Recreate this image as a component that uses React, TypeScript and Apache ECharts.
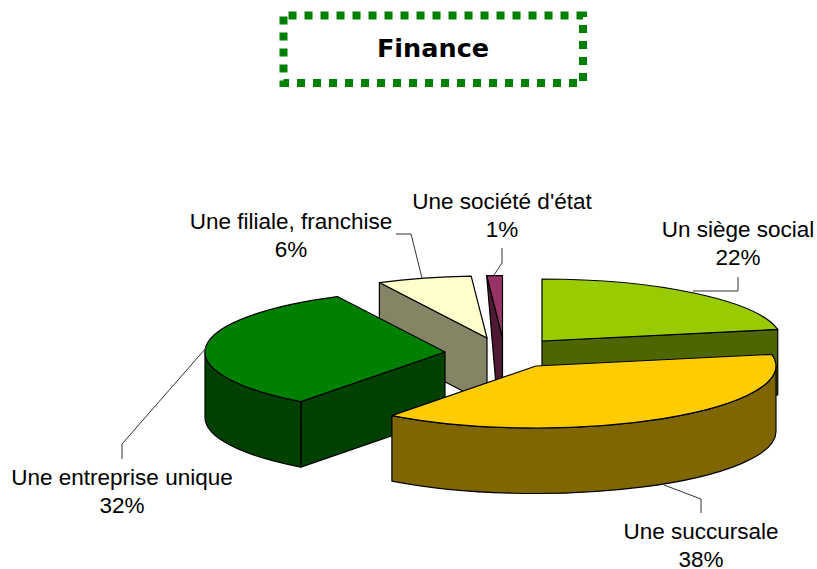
import React, { useEffect, useRef } from "react";
import * as echarts from "echarts";

const categories = ["Un siège social", "Une succursale", "Une entreprise unique", "Une filiale, franchise", "Une société d'état"];
const values = [22, 38.25, 32.35, 6.35, 1.05];
const percentLabels = ["22%", "38%", "32%", "6%", "1%"];
const topColors = ["#99CC00", "#FFCC00", "#008000", "#FFFFCC", "#993366"];
const sideColors = ["#4D6600", "#806600", "#004000", "#858566", "#4D1933"];
const drawOrder = [3, 5, 4, 1, 2];
const apexes = [[542, 341], [536, 366], [445, 352], [487, 338], [502.5, 337.5]];
const faceTaper = [0, 0, 0, 0, 5];
const labelPositions = [[738, 229], [701, 531], [122, 477], [291, 221], [502, 201]];
const leaders = [
  [[738, 277], [738, 291], [693, 291]],
  [[701, 513], [701, 499], [664, 485]],
  [[122, 459], [122, 444], [206, 348]],
  [[396, 234], [411, 234], [422, 278]],
  [[502, 248], [502, 263], [494, 275]],
];

const RX = 240;
const RY = 62;
const DEPTH = 65.5;
const total = values.reduce((a, b) => a + b, 0);
const FONT = "'Liberation Sans', Arial, sans-serif";

const pt = (c: number[], deg: number, dy = 0) => {
  const r = (deg * Math.PI) / 180;
  return [c[0] + RX * Math.sin(r), c[1] - RY * Math.cos(r) + dy];
};

const renderItem = (params: any, api: any) => {
  const i = params.dataIndex;
  let before = 0;
  for (let k = 0; k < i; k++) before += values[k];
  const a0 = (before / total) * 360;
  const a1 = ((before + api.value(0)) / total) * 360;
  const c = apexes[i];
  const z = drawOrder[i] * 10;
  const style = (fill: string) => ({ fill, stroke: "#000", lineWidth: 1.2, lineJoin: "round" });
  const children: any[] = [];
  const addPoly = (pts: number[][], fill: string, z2: number) =>
    children.push({ type: "polygon", z2, shape: { points: pts }, style: style(fill) });

  const s0 = Math.sin((a0 * Math.PI) / 180);
  const s1 = Math.sin((a1 * Math.PI) / 180);
  if (s0 < -1e-6) {
    const o = pt(c, a0);
    if (faceTaper[i]) {
      addPoly([o, c, [c[0], c[1] + DEPTH], [c[0] - faceTaper[i], c[1] + DEPTH]], sideColors[i], z);
    } else {
      addPoly([o, c, [c[0], c[1] + DEPTH], [o[0], o[1] + DEPTH]], sideColors[i], z);
    }
  }
  if (s1 > 1e-6) {
    const o = pt(c, a1);
    addPoly([c, o, [o[0], o[1] + DEPTH], [c[0], c[1] + DEPTH]], sideColors[i], z);
  }
  const w0 = Math.max(a0, 90);
  const w1 = Math.min(a1, 270);
  if (w1 > w0) {
    const p0 = pt(c, w0);
    const p1 = pt(c, w1);
    const large = w1 - w0 > 180 ? 1 : 0;
    children.push({
      type: "path",
      z2: z + 1,
      shape: {
        pathData: `M${p0[0]} ${p0[1]}A${RX} ${RY} 0 ${large} 1 ${p1[0]} ${p1[1]}L${p1[0]} ${p1[1] + DEPTH}A${RX} ${RY} 0 ${large} 0 ${p0[0]} ${p0[1] + DEPTH}Z`,
      },
      style: style(sideColors[i]),
    });
  }
  const t0 = pt(c, a0);
  const t1 = pt(c, a1);
  const large = a1 - a0 > 180 ? 1 : 0;
  children.push({
    type: "path",
    z2: z + 2,
    shape: { pathData: `M${c[0]} ${c[1]}L${t0[0]} ${t0[1]}A${RX} ${RY} 0 ${large} 1 ${t1[0]} ${t1[1]}Z` },
    style: style(topColors[i]),
  });
  children.push({
    type: "polyline",
    z2: 200,
    shape: { points: leaders[i] },
    style: { fill: "none", stroke: "#333", lineWidth: 1 },
  });
  children.push({
    type: "text",
    z2: 201,
    x: labelPositions[i][0],
    y: labelPositions[i][1] + 14,
    style: {
      text: `${categories[i]}\n${percentLabels[i]}`,
      fill: "#000",
      font: `22.5px ${FONT}`,
      lineHeight: 28,
      align: "center",
      verticalAlign: "middle",
    },
  });
  return { type: "group", children };
};

export default function App() {
  const ref = useRef<HTMLDivElement>(null);
  useEffect(() => {
    document.body.style.margin = "0";
    const chart = echarts.init(ref.current!, null, { renderer: "svg" });
    chart.setOption({
      animation: false,
      backgroundColor: "#fff",
      title: {
        text: "Finance",
        left: 428,
        top: 30,
        textAlign: "center",
        textStyle: { fontFamily: "'DejaVu Sans', Verdana, sans-serif", fontWeight: "bold", fontSize: 25.5, color: "#000" },
      },
      graphic: [
        {
          type: "rect",
          shape: { x: 283.5, y: 15.5, width: 299.5, height: 67.5 },
          style: { fill: "none", stroke: "#008000", lineWidth: 8, lineDash: [8, 8], lineDashOffset: 11 },
        },
      ],
      series: [
        {
          type: "custom",
          coordinateSystem: "none",
          silent: true,
          clip: false,
          renderItem,
          data: values.map((v, i) => ({ name: categories[i], value: v })),
        },
      ],
    });
    return () => chart.dispose();
  }, []);
  return <div ref={ref} style={{ width: 817, height: 569 }} />;
}
